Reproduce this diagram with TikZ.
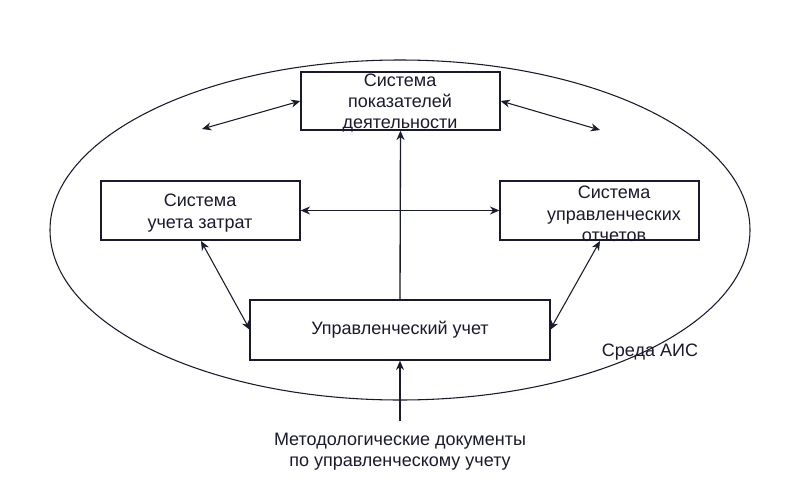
\documentclass[tikz,border=0pt]{standalone}
\usepackage{fontspec}
\setmainfont{Liberation Sans}
\usetikzlibrary{arrows.meta}
\definecolor{ink}{HTML}{1A1A2E}
\begin{document}
\begin{tikzpicture}[x=0.75pt,y=-0.75pt,
  box/.style={draw=ink,line width=1pt,inner sep=0pt,text=ink,font=\fontsize{13.5}{16}\selectfont,align=center},
  lbl/.style={text=ink,font=\fontsize{13.5}{16}\selectfont,align=center},
  arr/.style={draw=ink,line width=1pt,-{Stealth[length=7pt,width=6pt]}},
  darr/.style={draw=ink,line width=0.8pt,{Stealth[length=7pt,width=6pt]}-{Stealth[length=7pt,width=6pt]}}]
\useasboundingbox[fill=white] (0,0) rectangle (800,500);
\draw[ink,line width=0.8pt] (400,230) ellipse [x radius=350, y radius=170];
\node[box,minimum width=149.25pt,minimum height=43.5pt] (top) at (400.5,101) {};
\node[lbl] at (400,103) {Система\\показателей\\деятельности};
\node[box,minimum width=149.25pt,minimum height=44.25pt] (left) at (200.5,210.5) {};
\node[lbl] at (200,213) {Система\\учета затрат};
\node[box,minimum width=149.25pt,minimum height=44.25pt] (right) at (599.5,210.5) {};
\node[lbl] at (614,214) {Система\\управленческих\\отчетов};
\node[box,minimum width=225pt,minimum height=45pt] (bot) at (400,330) {Управленческий учет};
\node[lbl] (aic) at (650,352) {Среда АИС};
\node[lbl] (doc) at (400,452) {Методологические документы\\по управленческому учету};
\coordinate (a1) at (202,129);
\coordinate (a2) at (600,130);
\coordinate (src) at (400,421);
\draw[darr] (a1) -- (top.west);
\draw[darr] (top.east) -- (a2);
\draw[darr] (left.east) -- (right.west);
\draw[arr] (bot.north) -- (top.south);
\draw[darr] (201,241) -- (250,330);
\draw[darr] (600,241) -- (550,330);
\draw[arr] (src) -- (bot.south);
\end{tikzpicture}
\end{document}
